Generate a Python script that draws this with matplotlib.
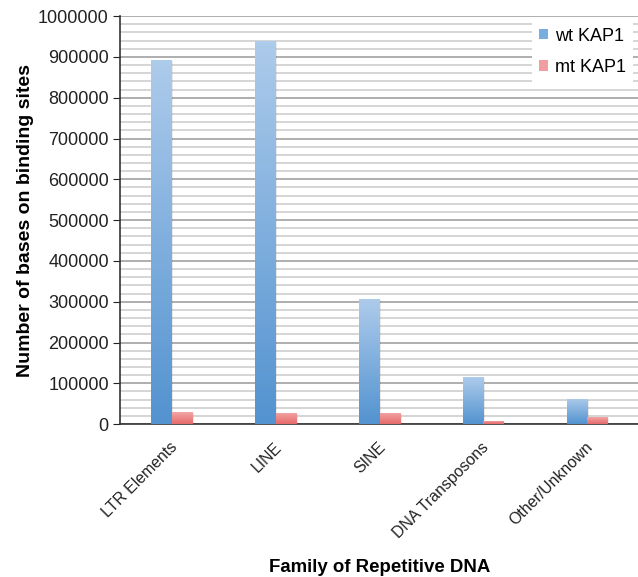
import numpy as np
import matplotlib
matplotlib.use('Agg')
import matplotlib.pyplot as plt
import matplotlib.transforms as mtransforms
from matplotlib.colors import LinearSegmentedColormap
from matplotlib.ticker import MultipleLocator, StrMethodFormatter

plt.rcParams['font.family'] = ['Liberation Sans', 'DejaVu Sans']

# data
families = ['LTR Elements', 'LINE', 'SINE', 'DNA Transposons', 'Other/Unknown']
wt_kap1 = [892000, 939000, 306000, 115000, 62000]
mt_kap1 = [29000, 27000, 27000, 8000, 17000]

blue_cmap = LinearSegmentedColormap.from_list('b', ['#5393d0', '#adcbeb'])
red_cmap = LinearSegmentedColormap.from_list('r', ['#e76a6a', '#f3a6a6'])

fig = plt.figure(figsize=(6.38, 5.77), dpi=100)
ax = fig.add_axes([0.188, 0.265, 0.814, 0.707])

x = np.arange(len(families))
w = 0.2

grad = np.linspace(0, 1, 100).reshape(-1, 1)


def grad_bars(xs, vals, cmap, label, legcol):
    bars = ax.bar(xs, vals, w, color=legcol, label=label, zorder=3, edgecolor='none')
    for b in bars:
        x0 = b.get_x()
        x1 = x0 + b.get_width()
        h = b.get_height()
        # soft shadow
        ax.add_patch(plt.Rectangle((x0 + 0.012, 0), b.get_width(), h - 2500,
                                   color='#000000', alpha=0.08, zorder=2.5, lw=0))
        im = ax.imshow(grad, extent=[x0, x1, 0, h], origin='lower', aspect='auto',
                       cmap=cmap, zorder=3.5, interpolation='bilinear')
        im.set_clip_path(b)
    return bars


grad_bars(x - w / 2, wt_kap1, blue_cmap, 'wt KAP1', '#78ade0')
grad_bars(x + w / 2, mt_kap1, red_cmap, 'mt KAP1', '#f19ea2')

ax.set_xlim(-0.5, len(families) - 0.5)
ax.set_ylim(0, 1000000)
ax.yaxis.set_major_locator(MultipleLocator(100000))
ax.yaxis.set_minor_locator(MultipleLocator(20000))
ax.yaxis.set_major_formatter(StrMethodFormatter('{x:.0f}'))
ax.grid(which='major', axis='y', color='#a8a8a8', lw=1.3, zorder=0)
ax.grid(which='minor', axis='y', color='#d2d2d2', lw=1.3, zorder=0)
ax.set_axisbelow(True)

for s in ['top', 'right']:
    ax.spines[s].set_visible(False)
ax.spines['left'].set_color('#333333')
ax.spines['bottom'].set_color('#333333')
ax.spines['left'].set_linewidth(1.2)
ax.spines['bottom'].set_linewidth(1.2)

ax.tick_params(axis='y', which='major', length=5, labelsize=13, colors='#222222', pad=3)
ax.tick_params(axis='y', which='minor', length=0)
ax.tick_params(axis='x', length=0, labelsize=11.4, pad=11)
ax.set_xticks(x)
ax.set_xticklabels(families, rotation=45, ha='right', va='top', rotation_mode='anchor')
shift = mtransforms.ScaledTranslation(-2 / 100, 0, fig.dpi_scale_trans)
for t in ax.get_xticklabels():
    t.set_color('#222222')
    t.set_transform(t.get_transform() + shift)

ax.set_ylabel('Number of bases on binding sites', fontsize=14, fontweight='bold', labelpad=3)
ax.set_xlabel('Family of Repetitive DNA', fontsize=13.4, fontweight='bold', labelpad=13)

leg = ax.legend(loc='upper right', bbox_to_anchor=(1.006, 1.012), frameon=True,
                fancybox=False, edgecolor='none', facecolor='white', framealpha=1,
                fontsize=13, handlelength=0.5, handleheight=0.5, handletextpad=0.4,
                labelspacing=0.8, borderpad=0.4)
leg.set_zorder(10)

fig.savefig('out.png', dpi=100)
